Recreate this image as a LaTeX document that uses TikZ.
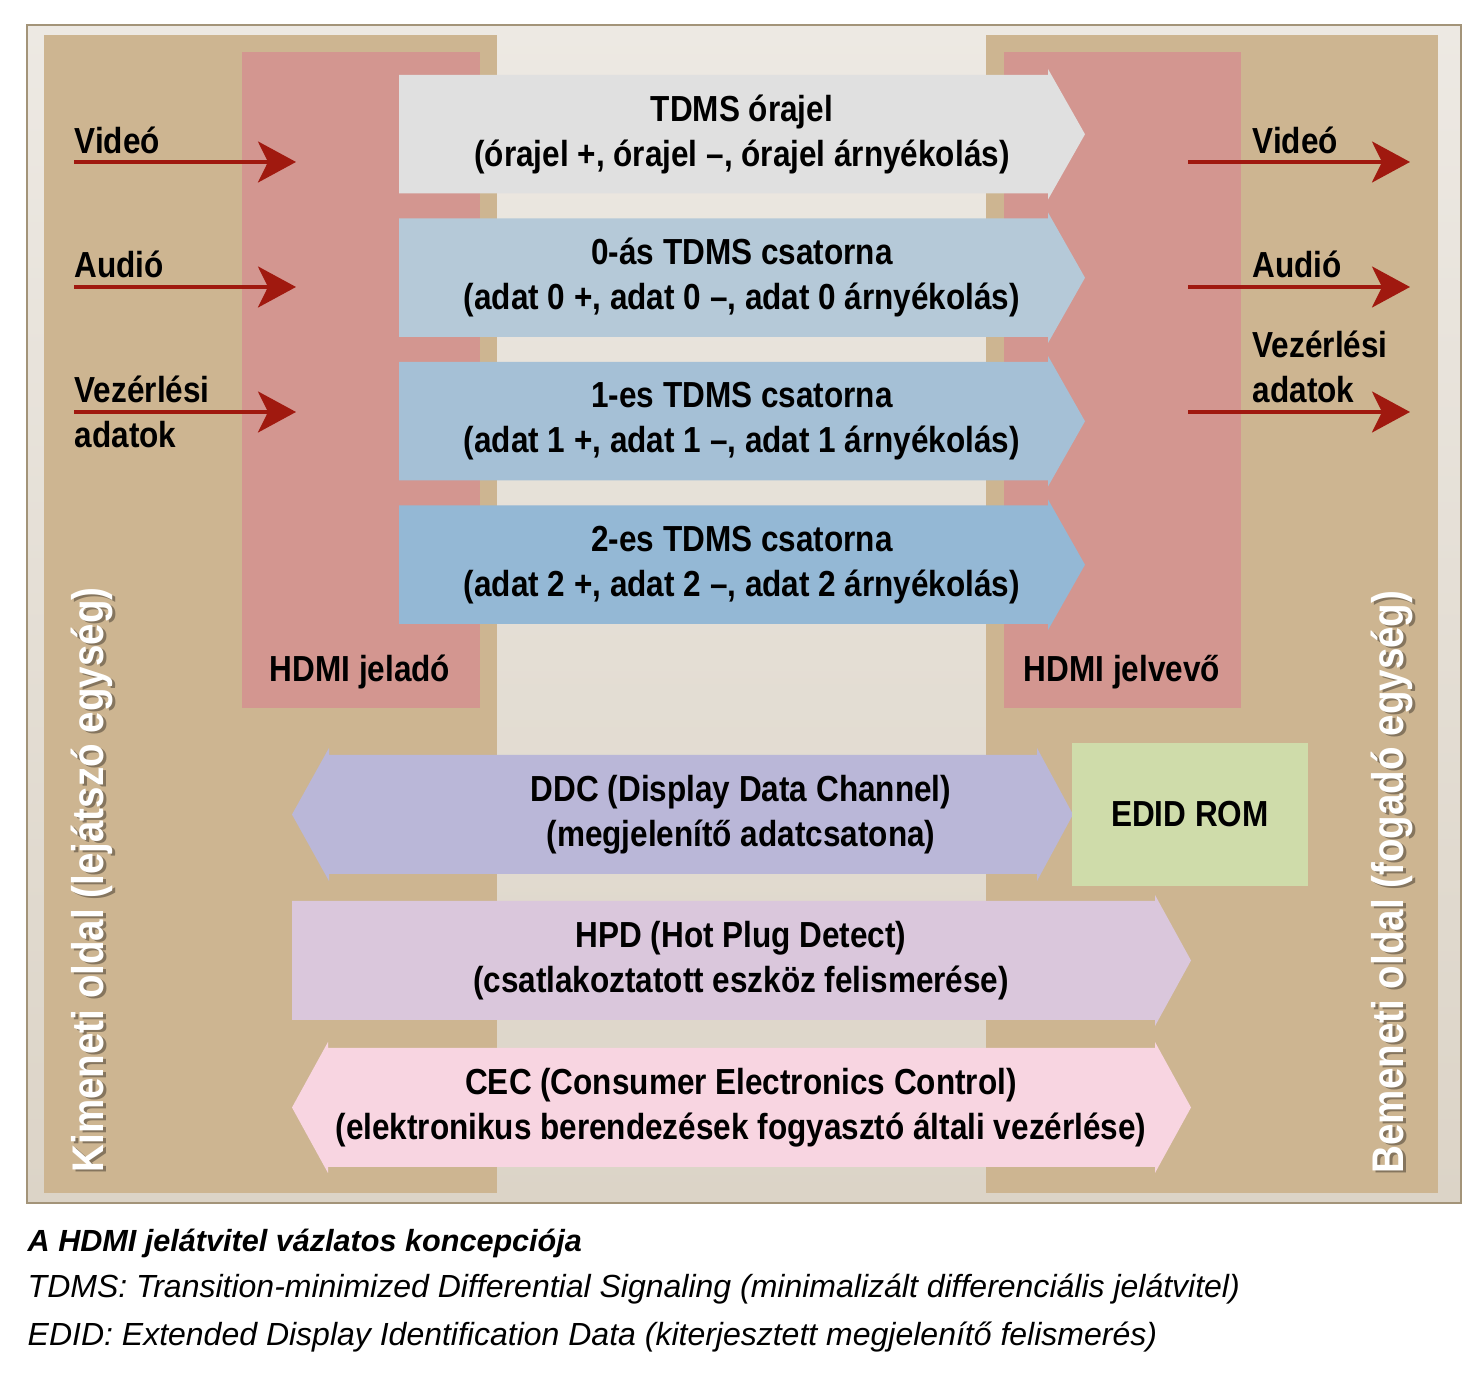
\documentclass[tikz,border=0pt]{standalone}
\usepackage{fontspec}
\setmainfont{Liberation Sans}
\newfontfamily\cond[FakeStretch=0.87]{Liberation Sans}
\newfontfamily\capfont{Liberation Sans}
\usetikzlibrary{arrows.meta}
\definecolor{frm}{HTML}{A39479}
\definecolor{bgtop}{HTML}{EDE9E3}
\definecolor{bgbot}{HTML}{DCD4C7}
\definecolor{tan}{HTML}{CDB591}
\definecolor{rose}{HTML}{D39690}
\definecolor{clk}{HTML}{E0E0E0}
\definecolor{chA}{HTML}{B5C9D8}
\definecolor{chB}{HTML}{A5C0D6}
\definecolor{chC}{HTML}{94B8D5}
\definecolor{ddc}{HTML}{BAB7D8}
\definecolor{edid}{HTML}{CFDCAA}
\definecolor{hpd}{HTML}{DAC7DC}
\definecolor{cec}{HTML}{F8D5E1}
\definecolor{sigred}{HTML}{A0190F}

\begin{document}
\begin{tikzpicture}[x=0.01cm,y=-0.01cm,>={Stealth[length=3.8mm,width=4.1mm,inset=1mm]},
	txt/.style={font=\cond\bfseries\fontsize{10.3}{12.8}\selectfont,align=center,inner sep=0pt},
	side/.style={txt,align=left,anchor=base west},
	sig/.style={->,color=sigred,line width=0.9pt},
	vert/.style={font=\cond\bfseries\fontsize{12.6}{15}\selectfont,rotate=90,inner sep=0pt},
	note/.style={font=\capfont\itshape\fontsize{9.1}{11}\selectfont,anchor=base west,inner sep=0pt}]

\fill[white] (0,0) rectangle (1484,1380);
\shadedraw[top color=bgtop,bottom color=bgbot,draw=frm,line width=0.6pt] (27,25) rectangle (1461,1203);

% source and sink sides
\fill[tan] (44,35) rectangle (497,1193);
\fill[tan] (986,35) rectangle (1438,1193);
\fill[rose] (242,52) rectangle (480,708);
\fill[rose] (1004,52) rectangle (1241,708);

\node[vert,text=black,opacity=.35] (kimsh) at (95,882) {Kimeneti oldal (lejátszó egység)};
\node[vert,text=white] (kim) at (92,880) {Kimeneti oldal (lejátszó egység)};
\node[vert,text=black,opacity=.35] (bemsh) at (1395,884) {Bemeneti oldal (fogadó egység)};
\node[vert,text=white] (bem) at (1392,882) {Bemeneti oldal (fogadó egység)};

\node[txt,anchor=base] (tx) at (360,682) {HDMI jeladó};
\node[txt,anchor=base] (rx) at (1122,682) {HDMI jelvevő};

% TDMS channels
\foreach \i/\c/\a/\b in {0/clk/{TDMS órajel}/{(órajel +, órajel –, órajel árnyékolás)},
	1/chA/{0-ás TDMS csatorna}/{(adat 0 +, adat 0 –, adat 0 árnyékolás)},
	2/chB/{1-es TDMS csatorna}/{(adat 1 +, adat 1 –, adat 1 árnyékolás)},
	3/chC/{2-es TDMS csatorna}/{(adat 2 +, adat 2 –, adat 2 árnyékolás)}}{
	\pgfmathsetmacro\t{75+143.5*\i}
	\fill[\c] (399,\t) -- (1048,\t) -- (1048,\t-6) -- (1085,\t+59.25) -- (1048,\t+124.5)
		-- (1048,\t+118.5) -- (399,\t+118.5) -- cycle;
	\node[txt] (ch\i) at (742,\t+59.25) {\a\\\b};
}

% DDC, HPD, CEC
\fill[ddc] (292,814.5) -- (329,748) -- (329,755) -- (1037,755) -- (1037,748) -- (1073,814.5)
	-- (1037,881) -- (1037,874) -- (329,874) -- (329,881) -- cycle;
\node[txt] (ddc) at (741,814.5) {DDC (Display Data Channel)\\(megjelenítő adatcsatona)};
\fill[edid] (1072,743) rectangle (1308,886);
\node[txt] (rom) at (1190,814.5) {EDID ROM};

\fill[hpd] (292,901) -- (1155,901) -- (1155,895) -- (1191,960.5) -- (1155,1026)
	-- (1155,1020) -- (292,1020) -- cycle;
\node[txt] (hpd) at (741,960.5) {HPD (Hot Plug Detect)\\(csatlakoztatott eszköz felismerése)};

\fill[cec] (292,1107.5) -- (328,1042) -- (328,1048) -- (1155,1048) -- (1155,1042) -- (1191,1107.5)
	-- (1155,1173) -- (1155,1167) -- (328,1167) -- (328,1173) -- cycle;
\node[txt] (cec) at (741,1107.5) {CEC (Consumer Electronics Control)\\(elektronikus berendezések fogyasztó általi vezérlése)};

% signals in and out
\node[side] (vin) at (74,154) {Videó};
\node[side] (ain) at (74,278) {Audió};
\node[side] (cin) at (74,448) {Vezérlési\\adatok};
\node[side] (vout) at (1252,154) {Videó};
\node[side] (aout) at (1252,278) {Audió};
\node[side] (cout) at (1252,403) {Vezérlési\\adatok};

\foreach \n/\y in {v/162,a/287,c/412}{
	\coordinate (\n0) at (74,\y);
	\coordinate (\n1) at (296,\y);
	\coordinate (\n2) at (1188,\y);
	\coordinate (\n3) at (1410,\y);
	\draw[sig] (\n0) -- (\n1);
	\draw[sig] (\n2) -- (\n3);
}

\node[note,font=\capfont\itshape\bfseries\fontsize{8.7}{11}\selectfont] (cap) at (27,1252) {A HDMI jelátvitel vázlatos koncepciója};
\node[note] (tdms) at (27,1298) {TDMS: Transition-minimized Differential Signaling (minimalizált differenciális jelátvitel)};
\node[note] (edidn) at (27,1346) {EDID: Extended Display Identification Data (kiterjesztett megjelenítő felismerés)};

\end{tikzpicture}
\end{document}
